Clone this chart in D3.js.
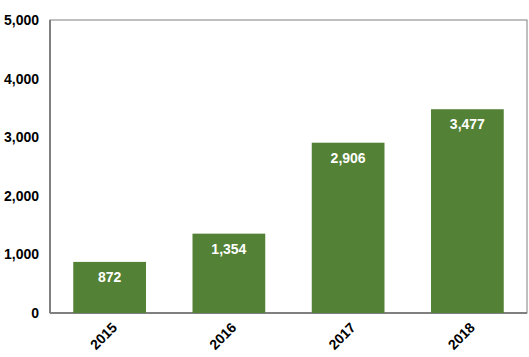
<!DOCTYPE html>
<html><head><meta charset="utf-8">
<script src="https://cdn.jsdelivr.net/npm/d3@7"></script>
<style>body{margin:0;background:#fff}svg{display:block}</style>
</head><body>
<script>
const categories = ["2015","2016","2017","2018"];
const values = [872, 1354, 2906, 3477];
const yTicks = [0,1000,2000,3000,4000,5000];

const W = 529, H = 357;
const m = {left:50, top:20, right:2, bottom:44};
const svg = d3.select("body").append("svg").attr("width",W).attr("height",H);
const x = d3.scaleBand().domain(categories).range([m.left, W-m.right]).paddingInner(0.39).paddingOuter(0.195);
const y = d3.scaleLinear().domain([0,5000]).range([H-m.bottom, m.top]);
const font = "Arial, 'Liberation Sans', sans-serif";

svg.append("rect").attr("x",m.left).attr("y",m.top).attr("width",W-m.right-m.left).attr("height",H-m.bottom-m.top)
  .attr("fill","none").attr("stroke","#808080").attr("stroke-width",1);
svg.append("line").attr("x1",m.left).attr("x2",m.left).attr("y1",m.top).attr("y2",H-m.bottom).attr("stroke","#808080").attr("stroke-width",2);
svg.append("line").attr("x1",m.left).attr("x2",W-m.right).attr("y1",H-m.bottom).attr("y2",H-m.bottom).attr("stroke","#808080").attr("stroke-width",2);

svg.selectAll(".bar").data(values).enter().append("rect")
  .attr("x",(d,i)=>x(categories[i])).attr("width",x.bandwidth())
  .attr("y",d=>y(d)).attr("height",d=>y(0)-y(d)).attr("fill","#538135");

svg.selectAll(".lbl").data(values).enter().append("text")
  .attr("x",(d,i)=>x(categories[i])+x.bandwidth()/2).attr("y",d=>y(d)+20)
  .attr("text-anchor","middle").attr("fill","#fff").attr("font-family",font).attr("font-weight","bold").attr("font-size",14)
  .text(d=>d3.format(",")(d));

svg.selectAll(".yt").data(yTicks).enter().append("text")
  .attr("x",39).attr("y",d=>y(d)).attr("dy","0.35em").attr("text-anchor","end")
  .attr("font-family",font).attr("font-weight","bold").attr("font-size",14).attr("fill","#000")
  .text(d=>d3.format(",")(d));

svg.selectAll(".xt").data(categories).enter().append("text")
  .attr("transform",d=>`translate(${x(d)+x.bandwidth()/2+5},${H-m.bottom+12}) rotate(-45)`)
  .attr("text-anchor","end").attr("dy","0.35em")
  .attr("font-family",font).attr("font-weight","bold").attr("font-size",14).attr("fill","#000")
  .text(d=>d);
</script>
</body></html>
